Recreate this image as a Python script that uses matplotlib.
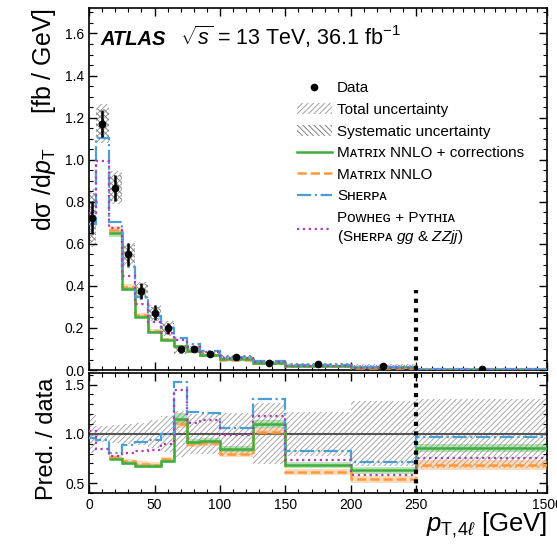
import numpy as np
import matplotlib
matplotlib.use('Agg')
import matplotlib.pyplot as plt
from matplotlib.lines import Line2D
from matplotlib.patches import Patch
from matplotlib.ticker import FixedLocator, MultipleLocator, FormatStrFormatter

plt.rcParams['font.family'] = ['Liberation Sans', 'DejaVu Sans']
plt.rcParams['mathtext.fontset'] = 'custom'
plt.rcParams['mathtext.rm'] = 'Liberation Sans'
plt.rcParams['mathtext.it'] = 'Liberation Sans:italic'
plt.rcParams['mathtext.bf'] = 'Liberation Sans:bold'
plt.rcParams['hatch.linewidth'] = 0.7

# Bin edges of pT,4l [GeV]
edges = np.array([0, 5, 15, 25, 35, 45, 55, 65, 75, 85, 100, 125, 150, 200, 250, 1500])

# Measured cross-section [fb/GeV]
data = np.array([0.725, 1.171, 0.866, 0.551, 0.377, 0.272, 0.198, 0.098, 0.100,
                 0.076, 0.060, 0.032, 0.028, 0.020, 0.003])
# Relative uncertainties: error bar, total (boxes / ratio band), systematic
stat_rel = np.array([0.11, 0.055, 0.07, 0.10, 0.10, 0.13, 0.14, 0.15, 0.15,
                     0.15, 0.15, 0.20, 0.18, 0.25, 0.30])
tot_rel = np.array([0.19, 0.08, 0.09, 0.10, 0.11, 0.14, 0.18, 0.23, 0.20,
                    0.20, 0.21, 0.31, 0.22, 0.33, 0.35])
sys_rel = np.array([0.16, 0.06, 0.07, 0.08, 0.09, 0.11, 0.14, 0.17, 0.15,
                    0.15, 0.16, 0.24, 0.17, 0.26, 0.28])

# Predictions / data (MATRIX starts at 15 GeV)
r_matrix_corr = np.array([np.nan, np.nan, 0.75, 0.70, 0.67, 0.67, 0.72, 1.15, 0.92,
                          0.93, 0.85, 1.10, 0.68, 0.63, 0.86])
r_matrix_corr_unc = np.array([np.nan, np.nan, 0.02, 0.02, 0.02, 0.02, 0.02, 0.06, 0.03,
                              0.03, 0.03, 0.04, 0.03, 0.035, 0.04])
r_matrix = np.array([np.nan, np.nan, 0.77, 0.72, 0.69, 0.68, 0.74, 1.10, 0.90,
                     0.91, 0.80, 1.02, 0.61, 0.54, 0.68])
r_matrix_unc = np.array([np.nan, np.nan, 0.02, 0.025, 0.03, 0.03, 0.03, 0.04, 0.03,
                         0.03, 0.035, 0.035, 0.03, 0.035, 0.05])
r_sherpa = np.array([0.96, 0.94, 0.81, 0.89, 0.92, 0.94, 1.00, 1.53, 1.22,
                     1.21, 1.06, 1.35, 0.83, 0.71, 0.97])
r_powheg = np.array([1.03, 0.85, 0.78, 0.81, 0.83, 0.84, 0.90, 1.45, 1.11,
                     1.14, 0.99, 1.18, 0.73, 0.58, 0.76])

c_green = '#3fae3f'
c_orange = '#ff9a3c'
c_blue = '#4b9fd6'
c_purple = '#b03cb0'


# Broken x axis: 0-250 linear, 250-1500 compressed
def fwd(x):
    x = np.asarray(x, dtype=float)
    return np.where(x <= 250, x, 250 + (x - 250) * 0.08)


def inv(u):
    u = np.asarray(u, dtype=float)
    return np.where(u <= 250, u, 250 + (u - 250) / 0.08)


centers = 0.5 * (edges[1:] + edges[:-1])
widths = np.diff(edges)
m = slice(2, None)

fig = plt.figure(figsize=(5.57, 5.49), dpi=100)
ax = fig.add_axes([0.160, 0.326, 0.822, 0.659])
ax2 = fig.add_axes([0.160, 0.102, 0.822, 0.219])

# ---- top panel ----
tot = data * tot_rel
sys = data * sys_rel
ax.bar(centers, 2 * tot, bottom=data - tot, width=widths, facecolor='none',
       edgecolor='#a0a0a0', hatch='//////', linewidth=0, zorder=1)
ax.bar(centers, 2 * sys, bottom=data - sys, width=widths, facecolor='none',
       edgecolor='#808080', hatch='\\\\\\\\\\\\', linewidth=0, zorder=1)

ax.stairs((data * (r_matrix + r_matrix_unc))[m], edges[2:],
          baseline=(data * (r_matrix - r_matrix_unc))[m], fill=True,
          color=c_orange, alpha=0.35, linewidth=0, zorder=2)
ax.stairs((data * (r_matrix_corr + r_matrix_corr_unc))[m], edges[2:],
          baseline=(data * (r_matrix_corr - r_matrix_corr_unc))[m], fill=True,
          color=c_green, alpha=0.35, linewidth=0, zorder=2)
ax.stairs((data * r_matrix)[m], edges[2:], baseline=None, color=c_orange,
          linestyle='--', linewidth=1.8, zorder=3)
ax.stairs((data * r_matrix_corr)[m], edges[2:], baseline=None, color=c_green,
          linewidth=1.8, zorder=4)
ax.stairs(data * r_sherpa, edges, baseline=None, color=c_blue,
          linestyle='-.', linewidth=1.6, zorder=5)
ax.stairs(data * r_powheg, edges, baseline=None, color=c_purple,
          linestyle=':', linewidth=1.6, zorder=6)

ax.errorbar(centers, data, yerr=data * stat_rel, fmt='o', color='black',
            markersize=4.5, elinewidth=1.8, capsize=0, zorder=10)
ax.plot([250, 250], [0, 0.38], color='black', linestyle=(0, (1, 1.3)),
        linewidth=3, zorder=7)

# ---- ratio panel ----
ax2.stairs(1 + tot_rel, edges, baseline=1 - tot_rel, fill=True, facecolor='none',
           edgecolor='#a8a8a8', hatch='//////', linewidth=0, zorder=1)
ax2.axhline(1.0, color='#555555', linewidth=1.5, zorder=2)
ax2.stairs((r_matrix + r_matrix_unc)[m], edges[2:], baseline=(r_matrix - r_matrix_unc)[m],
           fill=True, color=c_orange, alpha=0.35, linewidth=0, zorder=3)
ax2.stairs((r_matrix_corr + r_matrix_corr_unc)[m], edges[2:],
           baseline=(r_matrix_corr - r_matrix_corr_unc)[m],
           fill=True, color=c_green, alpha=0.35, linewidth=0, zorder=3)
ax2.stairs(r_matrix[m], edges[2:], baseline=None, color=c_orange,
           linestyle='--', linewidth=1.8, zorder=4)
ax2.stairs(r_matrix_corr[m], edges[2:], baseline=None, color=c_green,
           linewidth=1.8, zorder=5)
ax2.stairs(r_sherpa, edges, baseline=None, color=c_blue,
           linestyle='-.', linewidth=1.6, zorder=6)
ax2.stairs(r_powheg, edges, baseline=None, color=c_purple,
           linestyle=':', linewidth=1.6, zorder=7)
ax2.axvline(250, color='black', linestyle=(0, (1, 1.3)), linewidth=3, zorder=8)

# ---- axes styling ----
for a in (ax, ax2):
    a.set_xscale('function', functions=(fwd, inv))
    a.set_xlim(0, 1500)
    a.xaxis.set_major_locator(FixedLocator([0, 50, 100, 150, 200, 250, 1500]))
    a.xaxis.set_minor_locator(FixedLocator(list(range(0, 250, 10)) +
                                           list(range(300, 1500, 100))))
    a.tick_params(which='both', direction='in', top=True, right=True, labelsize=10)
    a.tick_params(which='major', length=6, width=1)
    a.tick_params(which='minor', length=3, width=0.8)
    a.yaxis.set_major_formatter(FormatStrFormatter('%.1f'))
    for s in a.spines.values():
        s.set_linewidth(1.2)

ax.set_ylim(0, 1.72)
ax.yaxis.set_major_locator(MultipleLocator(0.2))
ax.yaxis.set_minor_locator(MultipleLocator(0.05))
ax.tick_params(labelbottom=False)

ax2.set_ylim(0.40, 1.62)
ax2.yaxis.set_major_locator(FixedLocator([0.5, 1.0, 1.5]))
ax2.yaxis.set_minor_locator(MultipleLocator(0.1))
ax2.xaxis.set_major_formatter(FormatStrFormatter('%d'))

ax.set_ylabel('dσ /d$p_{\\mathrm{T}}$     [fb / GeV]', fontsize=18, loc='top')
ax.yaxis.set_label_coords(-0.068, 1.0)
ax2.set_ylabel('Pred. / data', fontsize=17, loc='top')
ax2.yaxis.set_label_coords(-0.068, 0.96)
ax2.set_xlabel(r'$p_{\mathrm{T},\!4\ell}$ [GeV]', fontsize=18.5, loc='right')
ax2.xaxis.set_label_coords(1.0, -0.15)

ax.text(0.024, 0.897, 'ATLAS', transform=ax.transAxes, fontsize=14.5,
        fontweight='bold', fontstyle='italic')
ax.text(0.199, 0.897, r'$\sqrt{s}$ = 13 TeV, 36.1 fb$^{-1}$', transform=ax.transAxes,
        fontsize=15.5)

handles = [
    Line2D([], [], marker='o', color='black', linestyle='none', markersize=4.5),
    Patch(facecolor='none', edgecolor='#a0a0a0', hatch='//////', linewidth=0),
    Patch(facecolor='none', edgecolor='#808080', hatch='\\\\\\\\\\\\', linewidth=0),
    Line2D([], [], color=c_green, linewidth=1.8),
    Line2D([], [], color=c_orange, linewidth=1.8, linestyle='--'),
    Line2D([], [], color=c_blue, linewidth=1.6, linestyle='-.'),
    Line2D([], [], color=c_purple, linewidth=1.6, linestyle=':'),
]
labels = [
    'Data',
    'Total uncertainty',
    'Systematic uncertainty',
    'Mᴀᴛʀɪx NNLO + corrections',
    'Mᴀᴛʀɪx NNLO',
    'Sʜᴇʀᴘᴀ',
    'Pᴏᴡʜᴇɢ + Pʏᴛʜɪᴀ\n(Sʜᴇʀᴘᴀ $gg$ & $ZZjj$)',
]
ax.legend(handles, labels, loc='upper left', bbox_to_anchor=(0.44, 0.815),
          frameon=False, fontsize=11, handlelength=2.3, handletextpad=0.35,
          labelspacing=0.5, borderaxespad=0)

fig.savefig('out.png', dpi=100)
